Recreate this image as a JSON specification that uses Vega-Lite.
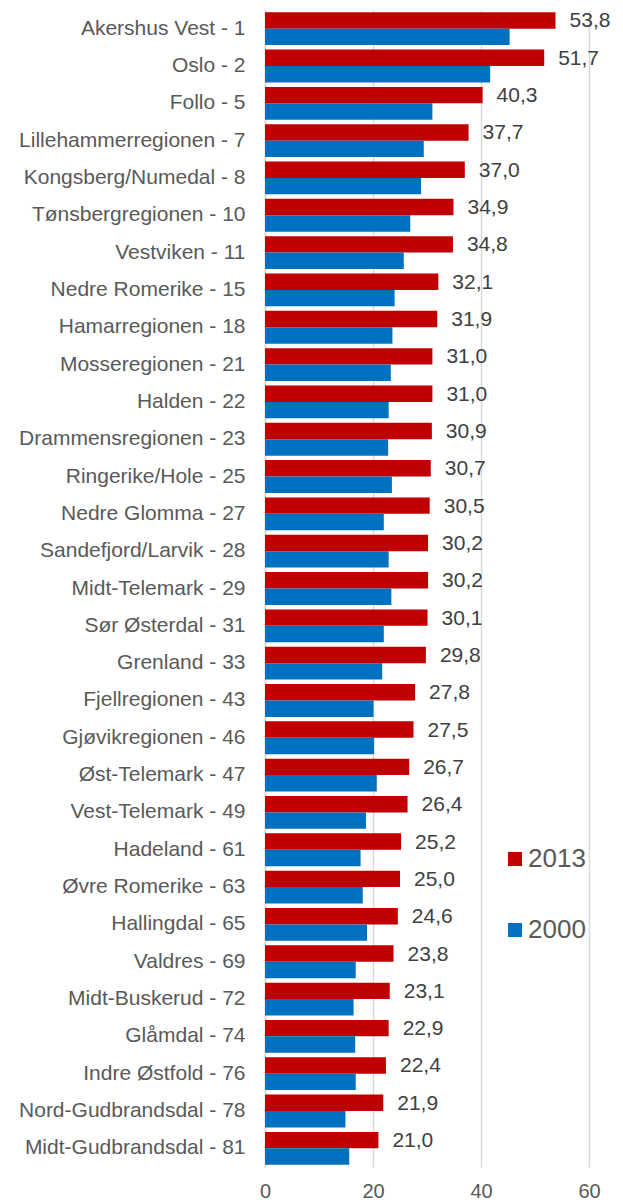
{
  "$schema": "https://vega.github.io/schema/vega-lite/v6.json",
  "autosize": {"type": "none"},
  "padding": {"left": 265, "top": 10, "right": 34, "bottom": 37},
  "width": 324,
  "height": 1157,
  "background": "white",
  "config": {
    "locale": {"number": {"decimal": ",", "thousands": " ", "grouping": [3], "currency": ["", " kr"]}},
    "font": "Liberation Sans",
    "view": {"stroke": null}
  },
  "data": {"values": [
    {"region": "Akershus Vest - 1", "year": "2013", "value": 53.8},
    {"region": "Akershus Vest - 1", "year": "2000", "value": 45.3},
    {"region": "Oslo - 2", "year": "2013", "value": 51.7},
    {"region": "Oslo - 2", "year": "2000", "value": 41.7},
    {"region": "Follo - 5", "year": "2013", "value": 40.3},
    {"region": "Follo - 5", "year": "2000", "value": 31.0},
    {"region": "Lillehammerregionen - 7", "year": "2013", "value": 37.7},
    {"region": "Lillehammerregionen - 7", "year": "2000", "value": 29.4},
    {"region": "Kongsberg/Numedal - 8", "year": "2013", "value": 37.0},
    {"region": "Kongsberg/Numedal - 8", "year": "2000", "value": 28.9},
    {"region": "Tønsbergregionen - 10", "year": "2013", "value": 34.9},
    {"region": "Tønsbergregionen - 10", "year": "2000", "value": 26.9},
    {"region": "Vestviken - 11", "year": "2013", "value": 34.8},
    {"region": "Vestviken - 11", "year": "2000", "value": 25.7},
    {"region": "Nedre Romerike - 15", "year": "2013", "value": 32.1},
    {"region": "Nedre Romerike - 15", "year": "2000", "value": 24.0},
    {"region": "Hamarregionen - 18", "year": "2013", "value": 31.9},
    {"region": "Hamarregionen - 18", "year": "2000", "value": 23.6},
    {"region": "Mosseregionen - 21", "year": "2013", "value": 31.0},
    {"region": "Mosseregionen - 21", "year": "2000", "value": 23.3},
    {"region": "Halden - 22", "year": "2013", "value": 31.0},
    {"region": "Halden - 22", "year": "2000", "value": 22.9},
    {"region": "Drammensregionen - 23", "year": "2013", "value": 30.9},
    {"region": "Drammensregionen - 23", "year": "2000", "value": 22.8},
    {"region": "Ringerike/Hole - 25", "year": "2013", "value": 30.7},
    {"region": "Ringerike/Hole - 25", "year": "2000", "value": 23.5},
    {"region": "Nedre Glomma - 27", "year": "2013", "value": 30.5},
    {"region": "Nedre Glomma - 27", "year": "2000", "value": 22.0},
    {"region": "Sandefjord/Larvik - 28", "year": "2013", "value": 30.2},
    {"region": "Sandefjord/Larvik - 28", "year": "2000", "value": 22.9},
    {"region": "Midt-Telemark - 29", "year": "2013", "value": 30.2},
    {"region": "Midt-Telemark - 29", "year": "2000", "value": 23.4},
    {"region": "Sør Østerdal - 31", "year": "2013", "value": 30.1},
    {"region": "Sør Østerdal - 31", "year": "2000", "value": 22.0},
    {"region": "Grenland - 33", "year": "2013", "value": 29.8},
    {"region": "Grenland - 33", "year": "2000", "value": 21.7},
    {"region": "Fjellregionen - 43", "year": "2013", "value": 27.8},
    {"region": "Fjellregionen - 43", "year": "2000", "value": 20.1},
    {"region": "Gjøvikregionen - 46", "year": "2013", "value": 27.5},
    {"region": "Gjøvikregionen - 46", "year": "2000", "value": 20.2},
    {"region": "Øst-Telemark - 47", "year": "2013", "value": 26.7},
    {"region": "Øst-Telemark - 47", "year": "2000", "value": 20.7},
    {"region": "Vest-Telemark - 49", "year": "2013", "value": 26.4},
    {"region": "Vest-Telemark - 49", "year": "2000", "value": 18.7},
    {"region": "Hadeland - 61", "year": "2013", "value": 25.2},
    {"region": "Hadeland - 61", "year": "2000", "value": 17.7},
    {"region": "Øvre Romerike - 63", "year": "2013", "value": 25.0},
    {"region": "Øvre Romerike - 63", "year": "2000", "value": 18.1},
    {"region": "Hallingdal - 65", "year": "2013", "value": 24.6},
    {"region": "Hallingdal - 65", "year": "2000", "value": 18.9},
    {"region": "Valdres - 69", "year": "2013", "value": 23.8},
    {"region": "Valdres - 69", "year": "2000", "value": 16.8},
    {"region": "Midt-Buskerud - 72", "year": "2013", "value": 23.1},
    {"region": "Midt-Buskerud - 72", "year": "2000", "value": 16.4},
    {"region": "Glåmdal - 74", "year": "2013", "value": 22.9},
    {"region": "Glåmdal - 74", "year": "2000", "value": 16.7},
    {"region": "Indre Østfold - 76", "year": "2013", "value": 22.4},
    {"region": "Indre Østfold - 76", "year": "2000", "value": 16.8},
    {"region": "Nord-Gudbrandsdal - 78", "year": "2013", "value": 21.9},
    {"region": "Nord-Gudbrandsdal - 78", "year": "2000", "value": 14.9},
    {"region": "Midt-Gudbrandsdal - 81", "year": "2013", "value": 21.0},
    {"region": "Midt-Gudbrandsdal - 81", "year": "2000", "value": 15.6}
  ]},
  "encoding": {
    "y": {
      "field": "region", "type": "nominal", "sort": null,
      "scale": {"paddingInner": 0.12, "paddingOuter": 0.06},
      "axis": {
        "title": null, "ticks": false, "domainColor": "#D9D9D9", "domainWidth": 1.5,
        "labelFontSize": 21, "labelColor": "#595959", "labelPadding": 20, "labelLimit": 300
      }
    },
    "yOffset": {"field": "year", "type": "nominal", "scale": {"domain": ["2013", "2000"]}},
    "x": {
      "field": "value", "type": "quantitative",
      "scale": {"domain": [0, 60], "nice": false},
      "axis": {
        "title": null, "values": [0, 20, 40, 60], "domain": false, "ticks": false,
        "gridColor": "#D9D9D9", "gridWidth": 1.5,
        "labelFontSize": 20, "labelColor": "#595959", "labelPadding": 14, "labelFlush": false
      }
    }
  },
  "layer": [
    {
      "mark": {"type": "bar"},
      "encoding": {
        "color": {
          "field": "year", "type": "nominal",
          "scale": {"domain": ["2013", "2000"], "range": ["#C00000", "#0070C0"]},
          "legend": {
            "title": null, "orient": "none", "legendX": 237, "legendY": 836, "padding": 0,
            "symbolType": "square", "symbolSize": 196, "symbolStrokeWidth": 0,
            "labelFontSize": 26, "labelColor": "#595959", "labelOffset": 0, "rowPadding": 45
          }
        }
      }
    },
    {
      "transform": [{"filter": "datum.year == '2013'"}],
      "mark": {"type": "text", "align": "left", "baseline": "middle", "dx": 14, "dy": 1, "fontSize": 21, "color": "#404040"},
      "encoding": {"text": {"field": "value", "type": "quantitative", "format": ".1f"}}
    }
  ]
}
